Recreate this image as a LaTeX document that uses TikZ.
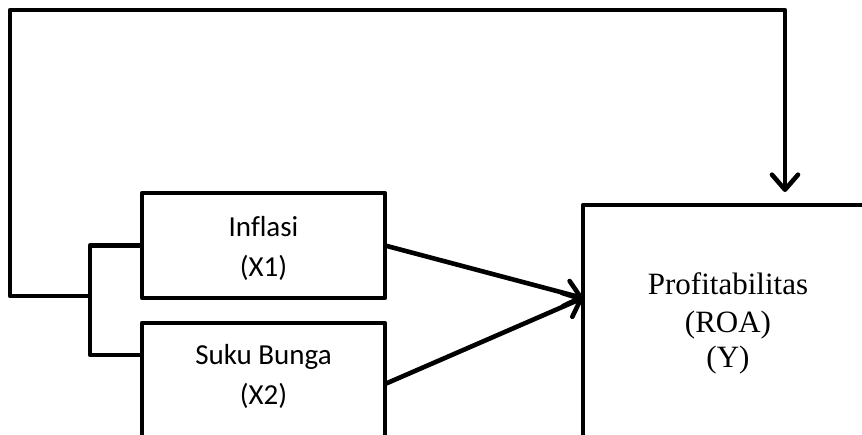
\documentclass[tikz,border=0pt]{standalone}
\usepackage{fontspec}
\setmainfont{Liberation Serif}[Ligatures=NoCommon]
\newfontfamily\calibri{Carlito}[Ligatures=NoCommon]
\usetikzlibrary{arrows.meta}
\begin{document}
\begin{tikzpicture}[x=1pt,y=-1pt, line width=4.6pt, line join=round,
  box/.style={draw, line width=4.6pt, rectangle, inner sep=0pt, outer sep=0pt},
  lbl/.style={font=\calibri\fontsize{29}{35}\selectfont, anchor=base, inner sep=0pt},
  plbl/.style={font=\fontsize{31}{37}\selectfont, anchor=base, inner sep=0pt},
  arr/.style={-{Straight Barb[length=15pt,width=26pt,line width=4.6pt,round]}}]
\useasboundingbox (0,0) rectangle (862,435);
\clip (0,0) rectangle (862,435);
% boxes
\node[box, minimum width=243pt, minimum height=105pt] (x1) at (263.5,245.5) {};
\node[box, minimum width=243pt, minimum height=122pt] (x2) at (263.5,384) {};
\node[box, minimum width=292pt, minimum height=238pt] (y) at (729,324) {};
% texts
\node[lbl] (t1a) at (263.5,237) {Inflasi};
\node[lbl] (t1b) at (263.5,277) {(X1)};
\node[lbl] (t2a) at (263.5,365) {Suku Bunga};
\node[lbl] (t2b) at (263.5,404) {(X2)};
\node[plbl] (tya) at (728,295) {Profitabilitas};
\node[plbl] (tyb) at (728,333) {(ROA)};
\node[plbl] (tyc) at (728,368) {(Y)};
% helper coordinates
\path (x2.north west) ++(0,32) coordinate (x2w);
\path (y.north west) ++(0,93) coordinate (tip);
\path (y.north west) ++(202,-13) coordinate (ttip);
\coordinate (b1) at (90,245.5);
\coordinate (b2) at (90,355);
\coordinate (j) at (90,296);
\coordinate (c1) at (10,296);
\coordinate (c2) at (10,10);
\coordinate (c3) at (785,10);
% connectors
\draw (x1.west) -- (b1) -- (b2) -- (x2w);
\draw[arr] (j) -- (c1) -- (c2) -- (c3) -- (ttip);
\draw[arr] (x1.east) -- (tip);
\draw[arr] (x2.east) -- (tip);
\end{tikzpicture}
\end{document}
